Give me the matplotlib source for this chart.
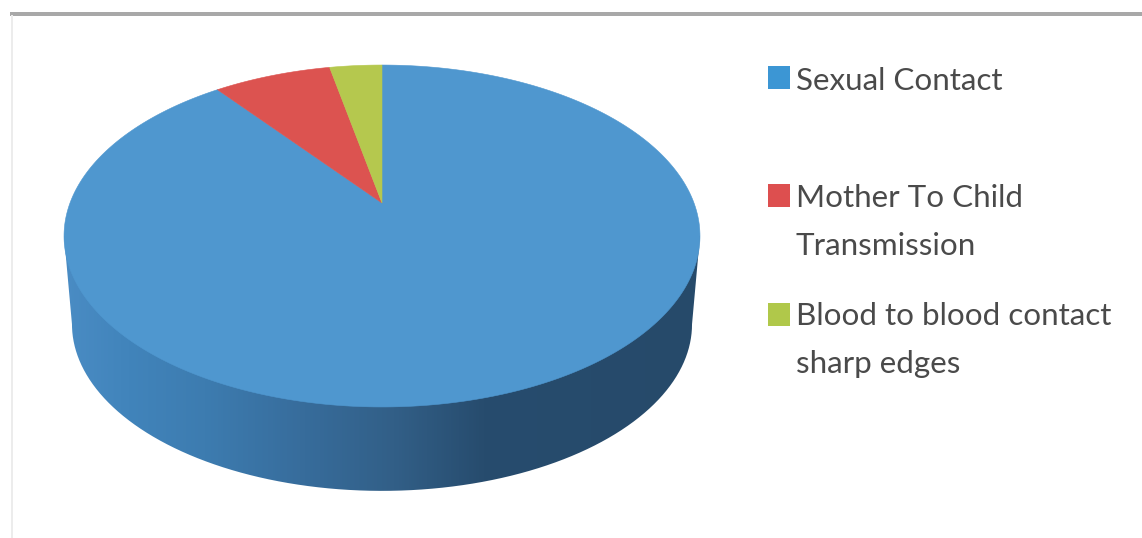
import numpy as np
import matplotlib
matplotlib.use("Agg")
import matplotlib.pyplot as plt
from matplotlib.colors import LinearSegmentedColormap
from matplotlib.patches import PathPatch, Polygon, Rectangle
from matplotlib.path import Path

# Share of transmission routes (percent)
routes = ["Sexual Contact", "Mother To Child\nTransmission", "Blood to blood contact\nsharp edges"]
shares = [89.6, 7.2, 3.2]
colors = ["#4f97cf", "#dc5350", "#b5c84e"]
key_colors = ["#3c96d4", "#dd4f4f", "#b0c84a"]

# Tilted-disc projection parameters
APEX_X, APEX_Y = 382.0, 203.0
RADIUS_X, RADIUS_Y, TILT = 312.0, 164.6, 0.193
DEPTH_Y, DEPTH_SCALE = 89.0, 0.975


def project(theta, scale=1.0, shift=0.0):
    """Map clockwise-from-top angles on the disc to canvas coordinates."""
    u, v = np.sin(theta), np.cos(theta)
    w = 1 + TILT * v
    return (APEX_X + scale * RADIUS_X * u / w,
            APEX_Y + shift - scale * RADIUS_Y * v / w)


fig = plt.figure(figsize=(11.42, 5.38), dpi=100)
ax = fig.add_axes([0, 0, 1, 1])
ax.set_xlim(0, 1142)
ax.set_ylim(538, 0)
ax.axis("off")

# Frame remnants along the top and left
ax.add_patch(Rectangle((10, 11.5), 1132, 4, fc="#a8a8a8", ec="none"))
ax.add_patch(Rectangle((11, 15), 2, 523, fc="#ececec", ec="none"))

# Side wall with a horizontal shading gradient
widest = np.arccos(-TILT)
front = np.linspace(widest, 2 * np.pi - widest, 300)
bx, by = project(front, DEPTH_SCALE, DEPTH_Y)
tx_r, ty_r = project(np.array([widest]))
tx_l, ty_l = project(np.array([2 * np.pi - widest]))
wall = np.column_stack([
    np.r_[tx_r, bx, tx_l],
    np.r_[ty_r, by, ty_l],
])
shade = LinearSegmentedColormap.from_list("wall", [
    (0.00, "#4a8cc4"), (0.10, "#4184bb"), (0.22, "#3d7cb0"),
    (0.38, "#376c9b"), (0.52, "#325f87"), (0.66, "#274c6e"),
    (1.00, "#264a6a"),
])
image = ax.imshow(np.linspace(0, 1, 512)[None, :], cmap=shade, aspect="auto",
                  extent=(64, 700, 500, 230), zorder=2)
clip = PathPatch(Path(wall), transform=ax.transData, fc="none", ec="none")
ax.add_patch(clip)
image.set_clip_path(clip)
ax.set_xlim(0, 1142)
ax.set_ylim(538, 0)

# Top face slices, clockwise from twelve o'clock
bounds = np.r_[0, np.cumsum(shares)] / np.sum(shares) * 2 * np.pi
for start, stop, color in zip(bounds[:-1], bounds[1:], colors):
    arc = np.linspace(start, stop, 400)
    x, y = project(arc)
    ax.add_patch(Polygon(np.column_stack([np.r_[APEX_X, x], np.r_[APEX_Y, y]]),
                         closed=True, fc=color, ec=color, lw=0.4, zorder=3))

# Legend keys and wrapped labels
key_tops = [66, 184, 303]
baselines = [90, 207, 325]
line_gap = 48
for label, color, top, base in zip(routes, key_colors, key_tops, baselines):
    ax.add_patch(Rectangle((768, top), 22, 23, fc=color, ec="none", zorder=3))
    for i, line in enumerate(label.split("\n")):
        ax.text(796, base + i * line_gap, line, family="Lato", fontsize=22.6,
                color="#4a4a4a", va="baseline", ha="left", zorder=4)

fig.savefig("out.png", dpi=100, facecolor="white")
